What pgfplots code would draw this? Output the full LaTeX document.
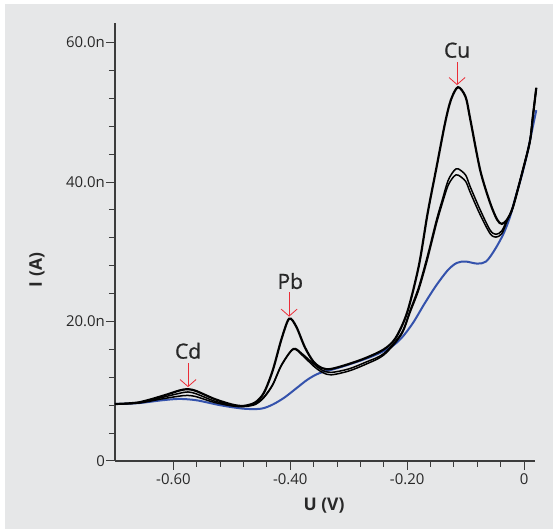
\documentclass[border=0pt]{standalone}
\usepackage{pgfplots}
\pgfplotsset{compat=1.18}
\usetikzlibrary{arrows.meta}
\usepackage{fontspec}
\setmainfont{Open Sans}
\newfontfamily\peakfont[BoldFont={Open Sans}, BoldFeatures={FakeBold=0.9}]{Open Sans}
\definecolor{bg}{RGB}{230,231,232}
\definecolor{cblue}{RGB}{52,82,172}
\definecolor{cred}{RGB}{235,45,55}
\definecolor{axgray}{RGB}{60,60,60}
\definecolor{txtgray}{RGB}{40,40,40}

\pgfplotstableread{
x y
-0.70 8.17
-0.66 8.3
-0.62 8.7
-0.59 8.9
-0.56 8.7
-0.52 8.0
-0.48 7.5
-0.45 7.5
-0.43 8.1
-0.41 9.1
-0.39 10.4
-0.37 11.7
-0.35 12.6
-0.32 13.3
-0.29 14.1
-0.26 15.0
-0.23 16.2
-0.21 17.6
-0.19 19.8
-0.17 22.6
-0.15 25.2
-0.13 27.4
-0.115 28.4
-0.10 28.6
-0.08 28.3
-0.065 28.6
-0.05 30.3
-0.035 32.6
-0.024 35.0
-0.013 38.3
-0.003 41.2
0.006 44.3
0.014 47.5
0.021 50.3
}\blue

\pgfplotstableread{
x y
-0.70 8.17
-0.66 8.4
-0.62 9.3
-0.59 10.1
-0.575 10.3
-0.56 10.0
-0.53 8.9
-0.50 8.1
-0.48 7.9
-0.46 8.4
-0.445 9.8
-0.43 13.0
-0.415 17.5
-0.402 20.4
-0.39 19.3
-0.375 16.3
-0.36 14.2
-0.345 13.3
-0.33 13.2
-0.30 13.9
-0.27 14.8
-0.24 16.0
-0.22 17.6
-0.20 21.3
-0.18 28.0
-0.165 35.5
-0.15 42.0
-0.135 48.5
-0.125 51.8
-0.113 53.6
-0.10 52.2
-0.092 49.0
-0.075 41.7
-0.058 37.0
-0.046 34.6
-0.038 34.0
-0.029 34.6
-0.019 36.4
-0.002 41.7
0.010 45.8
0.015 49.3
0.021 53.5
}\bigc

\pgfplotstableread{
x y
-0.70 8.17
-0.66 8.35
-0.62 9.1
-0.59 9.7
-0.575 9.9
-0.56 9.6
-0.53 8.6
-0.50 8.0
-0.48 7.85
-0.46 8.2
-0.445 9.2
-0.43 11.0
-0.415 13.8
-0.395 16.1
-0.38 15.4
-0.36 13.9
-0.345 13.0
-0.33 12.7
-0.30 13.2
-0.27 14.2
-0.24 15.4
-0.21 18.3
-0.195 21.6
-0.18 25.0
-0.165 29.5
-0.15 34.5
-0.14 37.4
-0.13 40.2
-0.12 41.6
-0.113 41.9
-0.10 41.0
-0.092 39.3
-0.075 36.0
-0.058 33.1
-0.048 32.5
-0.038 33.0
-0.029 34.6
-0.019 36.4
-0.002 41.7
0.010 45.8
0.015 49.3
0.021 53.5
}\smallb

\pgfplotstableread{
x y
-0.70 8.17
-0.66 8.3
-0.62 8.9
-0.59 9.3
-0.575 9.4
-0.56 9.2
-0.53 8.4
-0.50 7.9
-0.48 7.8
-0.46 8.1
-0.445 9.1
-0.43 10.9
-0.415 13.7
-0.395 16.0
-0.38 15.2
-0.36 13.6
-0.345 12.7
-0.33 12.35
-0.30 12.9
-0.27 13.9
-0.24 15.2
-0.21 18.1
-0.195 21.3
-0.18 24.6
-0.165 29.0
-0.15 34.0
-0.14 36.9
-0.13 39.5
-0.12 40.8
-0.113 41.0
-0.10 40.1
-0.092 38.5
-0.075 35.3
-0.058 32.6
-0.048 32.1
-0.038 32.6
-0.029 34.4
-0.019 36.4
-0.002 41.7
0.010 45.8
0.015 49.3
0.021 53.5
}\smallc

\begin{document}
\begin{tikzpicture}
\useasboundingbox (0bp,0bp) rectangle (553bp,529bp);
\fill[white] (0bp,0bp) rectangle (553bp,529bp);
\fill[bg] (5bp,0bp) rectangle (553bp,525bp);
\begin{axis}[
  at={(115bp,68bp)}, anchor=south west,
  scale only axis, width=420bp, height=438bp,
  xmin=-0.70, xmax=0.0188, ymin=0, ymax=62.8,
  axis x line*=bottom, axis y line*=left,
  axis line style={axgray, line width=1.1bp},
  tick align=outside,
  major tick length=9bp, minor tick length=6bp,
  every tick/.style={axgray, line width=1bp},
  xtick={-0.6,-0.4,-0.2,0},
  xticklabels={-0.60,-0.40,-0.20,0},
  ytick={0,20,40,60},
  yticklabels={0,20.0n,40.0n,60.0n},
  minor x tick num=4, minor y tick num=4,
  tick label style={font=\fontsize{15}{18}\selectfont, text=txtgray},
  yticklabel style={inner sep=1bp},
  xlabel={\textbf{U (V)}},
  ylabel={\textbf{I (A)}},
  label style={font=\fontsize{17.5}{20}\selectfont, text=txtgray},
  xlabel style={at={(axis description cs:0.4976,0)}, anchor=center, yshift=-45bp},
  ylabel style={at={(axis description cs:-0.1857,0.436)}, anchor=center},
  clip=false,
]
\addplot[cblue, line width=2bp, smooth, tension=0.5] table {\blue};
\addplot[black, line width=1.5bp, smooth, tension=0.5] table {\smallc};
\addplot[black, line width=1.5bp, smooth, tension=0.5] table {\smallb};
\addplot[black, line width=2.2bp, smooth, tension=0.5] table {\bigc};

\draw[cred, line width=0.8bp, -{Straight Barb[length=7bp,width=16bp]}] (axis cs:-0.575,14.05) -- (axis cs:-0.575,10.6);
\draw[cred, line width=0.8bp, -{Straight Barb[length=7bp,width=16bp]}] (axis cs:-0.402,24.2) -- (axis cs:-0.402,20.7);
\draw[cred, line width=0.8bp, -{Straight Barb[length=7bp,width=16bp]}] (axis cs:-0.1146,57.2) -- (axis cs:-0.1146,53.9);
\node[font=\peakfont\bfseries\fontsize{21}{24}\selectfont, text=txtgray] at (axis cs:-0.575,15.8) {Cd};
\node[font=\peakfont\bfseries\fontsize{21}{24}\selectfont, text=txtgray] at (axis cs:-0.400,25.8) {Pb};
\node[font=\peakfont\bfseries\fontsize{21}{24}\selectfont, text=txtgray] at (axis cs:-0.1146,58.9) {Cu};
\end{axis}
\end{tikzpicture}
\end{document}
